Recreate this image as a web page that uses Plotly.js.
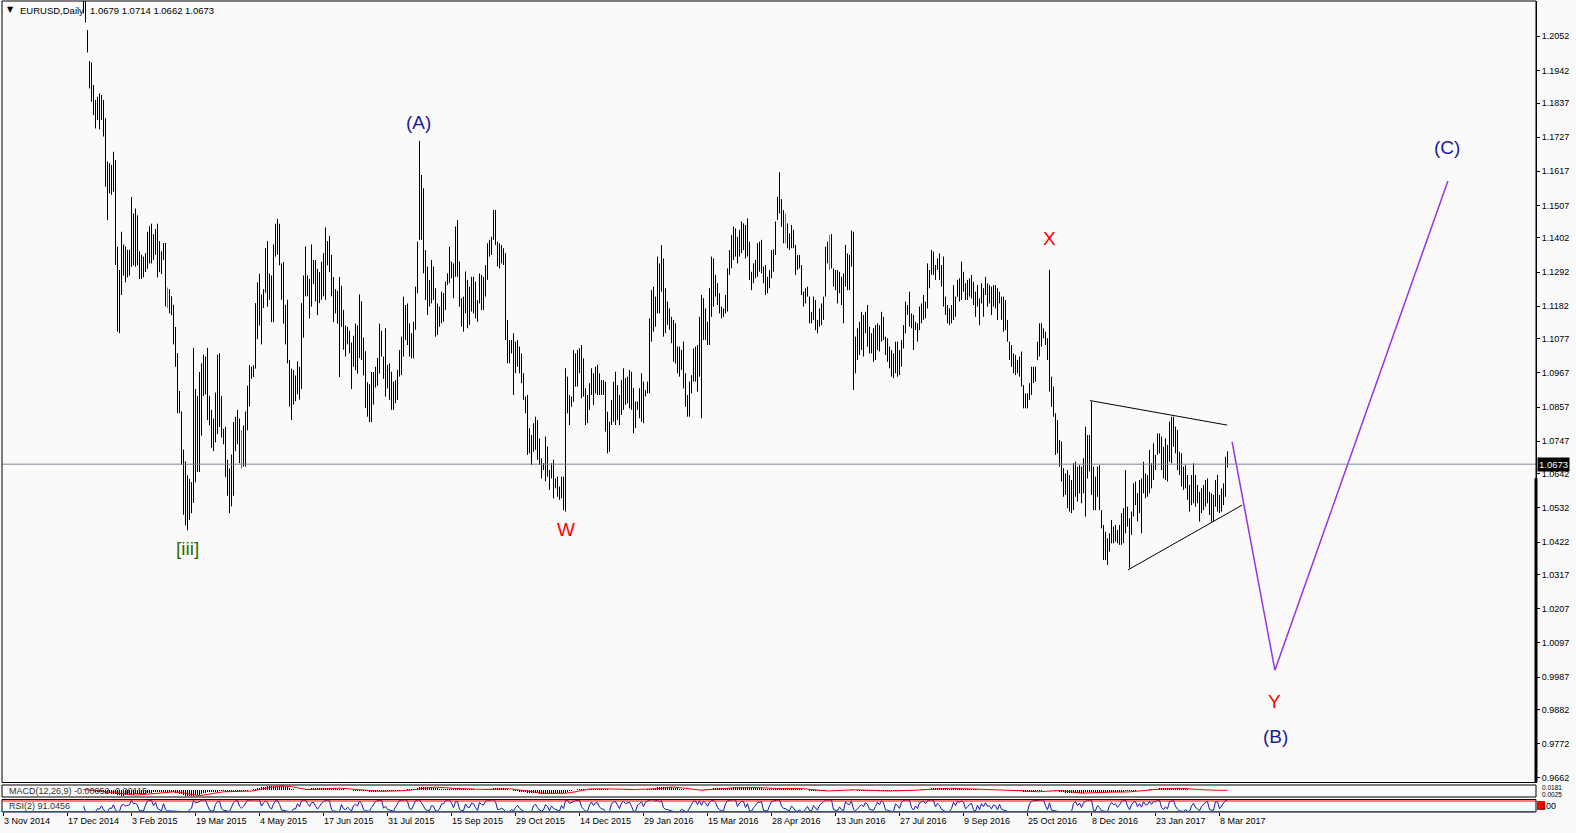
<!DOCTYPE html>
<html><head><meta charset="utf-8">
<script src="https://cdn.plot.ly/plotly-3.0.1.min.js"></script>
<style>html,body{margin:0;padding:0;background:#fafafa;overflow:hidden}#chart{width:1576px;height:833px}</style>
</head><body><div id="chart"></div>
<script>
// ---------------- data ----------------
const firstBar = 40; // bar number of the first high/low pair (bar 0 = 3 Nov 2014)
const high = [
1.2175,1.2180,1.2072,1.1972,1.1968,1.1895,1.1847,1.1857,1.1868,1.1863,
1.1847,1.1788,1.1648,1.1643,1.1637,1.1680,1.1653,1.1374,1.1299,1.1422,
1.1381,1.1375,1.1364,1.1364,1.1534,1.1481,1.1497,1.1475,1.1359,1.1348,
1.1342,1.1353,1.1422,1.1440,1.1448,1.1414,1.1431,1.1448,1.1392,1.1359,
1.1386,1.1386,1.1242,1.1237,1.1214,1.1187,1.1115,1.1031,1.0909,1.0843,
1.0720,1.0682,1.0637,1.0626,1.0615,1.1048,1.0915,1.0893,1.0970,1.0998,
1.1026,1.1020,1.1048,1.0893,1.0848,1.0820,1.0904,1.1026,1.1031,1.0893,
1.0787,1.0793,1.0687,1.0659,1.0704,1.0809,1.0826,1.0848,1.0820,1.0782,
1.0798,1.0843,1.0926,1.0992,1.0987,1.0992,1.1192,1.1259,1.1287,1.1220,
1.1237,1.1370,1.1392,1.1287,1.1281,1.1381,1.1448,1.1464,1.1448,1.1320,
1.1325,1.1187,1.1203,1.1009,1.0981,1.0976,1.0959,1.1004,1.0987,1.1192,
1.1281,1.1375,1.1281,1.1270,1.1381,1.1331,1.1331,1.1303,1.1292,1.1325,
1.1353,1.1436,1.1392,1.1409,1.1348,1.1276,1.1237,1.1231,1.1276,1.1248,
1.1170,1.1120,1.1115,1.1103,1.1065,1.1087,1.1126,1.1120,1.1220,1.1198,
1.1081,1.1037,1.0937,1.0931,1.0970,1.0970,1.0987,1.1015,1.1126,1.1103,
1.1020,1.1111,1.0993,1.0998,1.0971,1.0939,1.0944,1.0977,1.1041,1.1084,
1.1213,1.1186,1.1191,1.1127,1.1095,1.1132,1.1245,1.1390,1.1715,1.1605,
1.1562,1.1363,1.1310,1.1267,1.1331,1.1310,1.1240,1.1191,1.1181,1.1229,
1.1224,1.1261,1.1288,1.1374,1.1326,1.1320,1.1439,1.1460,1.1326,1.1208,
1.1213,1.1294,1.1267,1.1245,1.1277,1.1277,1.1261,1.1202,1.1288,1.1283,
1.1277,1.1315,1.1385,1.1396,1.1406,1.1492,1.1492,1.1390,1.1385,1.1379,
1.1369,1.1353,1.1138,1.1073,1.1073,1.1095,1.1068,1.1073,1.1052,1.1030,
1.0966,1.0891,1.0896,1.0789,1.0767,1.0805,1.0826,1.0815,1.0756,1.0692,
1.0676,1.0762,1.0730,1.0654,1.0676,1.0687,1.0627,1.0633,1.0601,1.0633,
1.0633,1.0982,1.0955,1.0896,1.0891,1.1041,1.1030,1.1041,1.1046,1.1057,
1.1014,1.0918,1.0896,1.0934,1.0982,1.0966,1.0987,1.0993,1.0966,1.0944,
1.0944,1.0939,1.0842,1.0810,1.0880,1.0939,1.0971,1.0928,1.0896,1.0944,
1.0982,1.0950,1.0955,1.0977,1.0971,1.0918,1.0875,1.0875,1.0918,1.0966,
1.0939,1.0912,1.0939,1.1143,1.1234,1.1245,1.1213,1.1342,1.1320,1.1379,
1.1336,1.1240,1.1197,1.1175,1.1148,1.1138,1.1127,1.1052,1.1052,1.1041,
1.1068,1.0966,1.0896,1.0939,1.0960,1.1046,1.1052,1.1057,1.1148,1.1218,
1.1208,1.1175,1.1132,1.1240,1.1342,1.1336,1.1283,1.1256,1.1224,1.1181,
1.1175,1.1218,1.1304,1.1363,1.1412,1.1439,1.1433,1.1406,1.1428,1.1455,
1.1449,1.1444,1.1465,1.1390,1.1293,1.1320,1.1331,1.1385,1.1390,1.1396,
1.1310,1.1315,1.1277,1.1299,1.1363,1.1365,1.1455,1.1535,1.1614,1.1527,
1.1492,1.1481,1.1449,1.1417,1.1444,1.1428,1.1380,1.1347,1.1347,1.1315,
1.1229,1.1240,1.1245,1.1213,1.1164,1.1213,1.1202,1.1138,1.1175,1.1191,
1.1213,1.1374,1.1390,1.1412,1.1415,1.1304,1.1299,1.1299,1.1293,1.1277,
1.1288,1.1380,1.1352,1.1347,1.1426,1.1422,1.1084,1.1111,1.1132,1.1164,
1.1154,1.1164,1.1186,1.1116,1.1095,1.1111,1.1121,1.1127,1.1121,1.1164,
1.1148,1.1084,1.1079,1.1052,1.1041,1.1030,1.1068,1.1068,1.1041,1.1073,
1.1121,1.1197,1.1186,1.1229,1.1159,1.1154,1.1132,1.1127,1.1181,1.1191,
1.1218,1.1197,1.1320,1.1299,1.1363,1.1358,1.1315,1.1336,1.1352,1.1315,
1.1342,1.1213,1.1186,1.1175,1.1186,1.1250,1.1213,1.1267,1.1272,1.1326,
1.1293,1.1256,1.1267,1.1272,1.1283,1.1261,1.1229,1.1250,1.1207,1.1256,
1.1240,1.1277,1.1256,1.1250,1.1245,1.1250,1.1250,1.1240,1.1229,1.1213,
1.1213,1.1202,1.1138,1.1068,1.1057,1.1030,1.1025,1.1009,1.1020,1.1036,
1.0928,1.0901,1.0901,1.0934,1.0987,1.0987,1.0987,1.1068,1.1127,1.1127,
1.1111,1.1100,1.1079,1.1299,1.0955,1.0923,1.0837,1.0815,1.0751,1.0746,
1.0660,1.0643,1.0654,1.0638,1.0622,1.0676,1.0681,1.0665,1.0670,1.0665,
1.0692,1.0794,1.0767,1.0767,1.0875,1.0665,1.0633,1.0665,1.0670,1.0525,
1.0477,1.0455,1.0434,1.0450,1.0493,1.0472,1.0477,1.0461,1.0477,1.0515,
1.0531,1.0654,1.0536,1.0499,1.0520,1.0611,1.0617,1.0579,1.0622,1.0627,
1.0681,1.0643,1.0638,1.0719,1.0676,1.0740,1.0703,1.0772,1.0772,1.0762,
1.0729,1.0756,1.0735,1.0810,1.0826,1.0826,1.0794,1.0783,1.0713,1.0708,
1.0665,1.0670,1.0638,1.0606,1.0638,1.0676,1.0638,1.0606,1.0584,1.0595,
1.0606,1.0622,1.0627,1.0584,1.0579,1.0574,1.0622,1.0638,1.0574,1.0595,
1.0611,1.0697,1.0714
];
const low = [
1.2126,1.2096,1.2000,1.1884,1.1841,1.1798,1.1755,1.1782,1.1752,1.1782,
1.1729,1.1567,1.1460,1.1546,1.1541,1.1551,1.1315,1.1100,1.1095,1.1218,
1.1281,1.1259,1.1275,1.1281,1.1309,1.1314,1.1309,1.1314,1.1270,1.1270,
1.1275,1.1292,1.1303,1.1320,1.1320,1.1331,1.1348,1.1275,1.1292,1.1286,
1.1331,1.1181,1.1176,1.1159,1.1153,1.1059,1.0987,1.0837,1.0837,1.0671,
1.0510,1.0476,1.0460,1.0493,1.0515,1.0548,1.0615,1.0648,1.0648,1.0765,
1.0893,1.0898,1.0815,1.0798,1.0726,1.0715,1.0743,1.0770,1.0793,1.0759,
1.0737,1.0632,1.0571,1.0515,1.0537,1.0571,1.0715,1.0737,1.0676,1.0659,
1.0665,1.0665,1.0782,1.0859,1.0948,1.0954,1.0981,1.1076,1.1120,1.1059,
1.1176,1.1226,1.1181,1.1203,1.1131,1.1131,1.1342,1.1348,1.1314,1.1203,
1.1126,1.1059,1.0998,1.0859,1.0815,1.0865,1.0876,1.0898,1.0881,1.0915,
1.1081,1.1214,1.1214,1.1142,1.1181,1.1253,1.1198,1.1153,1.1192,1.1203,
1.1214,1.1203,1.1314,1.1292,1.1214,1.1131,1.1159,1.1126,1.0954,1.1115,
1.1042,1.1020,1.1059,1.1031,1.0915,1.0987,1.0976,1.0965,1.1015,1.1009,
1.0959,1.0854,1.0826,1.0809,1.0809,1.0865,1.0920,1.0926,1.0965,1.1020,
1.0948,1.0891,1.0917,1.0880,1.0848,1.0848,1.0869,1.0880,1.0955,1.0960,
1.1020,1.1073,1.1057,1.1020,1.1014,1.1014,1.1106,1.1224,1.1396,1.1396,
1.1288,1.1202,1.1154,1.1181,1.1191,1.1202,1.1084,1.1089,1.1116,1.1127,
1.1132,1.1170,1.1250,1.1256,1.1272,1.1208,1.1277,1.1277,1.1181,1.1116,
1.1100,1.1159,1.1111,1.1122,1.1165,1.1159,1.1143,1.1132,1.1191,1.1170,
1.1170,1.1213,1.1267,1.1342,1.1347,1.1396,1.1379,1.1310,1.1304,1.1320,
1.1315,1.1073,1.0998,1.0998,1.1030,1.0896,1.0966,1.0987,1.0966,1.0934,
1.0880,1.0837,1.0703,1.0708,1.0670,1.0713,1.0719,1.0687,1.0670,1.0627,
1.0654,1.0617,1.0633,1.0590,1.0627,1.0563,1.0595,1.0568,1.0558,1.0563,
1.0525,1.0520,1.0837,1.0799,1.0858,1.0874,1.0923,1.0923,1.0966,1.0885,
1.0891,1.0799,1.0805,1.0848,1.0896,1.0864,1.0901,1.0896,1.0896,1.0896,
1.0896,1.0778,1.0708,1.0713,1.0799,1.0810,1.0799,1.0815,1.0799,1.0832,
1.0848,1.0864,1.0869,1.0853,1.0848,1.0772,1.0789,1.0848,1.0821,1.0810,
1.0805,1.0891,1.0901,1.0901,1.1068,1.1100,1.1116,1.1159,1.1159,1.1229,
1.1084,1.1095,1.1122,1.1106,1.1063,1.1003,1.0998,1.0966,1.0955,1.0977,
1.0917,1.0858,1.0826,1.0826,1.0901,1.0939,1.0939,1.0907,1.0955,1.0821,
1.1073,1.1073,1.1057,1.1057,1.1148,1.1181,1.1213,1.1186,1.1159,1.1143,
1.1148,1.1159,1.1165,1.1283,1.1304,1.1331,1.1342,1.1320,1.1342,1.1353,
1.1363,1.1336,1.1342,1.1267,1.1234,1.1256,1.1272,1.1277,1.1293,1.1288,
1.1256,1.1218,1.1224,1.1240,1.1272,1.1293,1.1347,1.1460,1.1481,1.1438,
1.1385,1.1385,1.1369,1.1363,1.1369,1.1369,1.1283,1.1299,1.1304,1.1218,
1.1181,1.1191,1.1213,1.1127,1.1127,1.1138,1.1105,1.1095,1.1116,1.1121,
1.1138,1.1213,1.1320,1.1299,1.1304,1.1245,1.1234,1.1191,1.1224,1.1186,
1.1127,1.1245,1.1234,1.1234,1.1310,1.0912,1.0966,1.1009,1.1025,1.1041,
1.1020,1.1095,1.1052,1.1030,1.1030,1.1003,1.1009,1.1041,1.1036,1.1068,
1.1073,1.1025,1.1003,1.0982,1.0955,1.0950,1.0966,1.0955,1.0960,1.0987,
1.1046,1.1095,1.1154,1.1116,1.1111,1.1041,1.1105,1.1068,1.1105,1.1127,
1.1138,1.1143,1.1175,1.1240,1.1283,1.1283,1.1267,1.1299,1.1267,1.1245,
1.1181,1.1154,1.1127,1.1121,1.1127,1.1138,1.1148,1.1213,1.1197,1.1202,
1.1229,1.1202,1.1202,1.1213,1.1207,1.1186,1.1148,1.1181,1.1121,1.1191,
1.1148,1.1218,1.1181,1.1191,1.1154,1.1181,1.1175,1.1138,1.1191,1.1138,
1.1100,1.1105,1.1068,1.1009,1.0987,1.0966,1.0960,1.0966,1.0955,1.0923,
1.0853,1.0853,1.0853,1.0880,1.0896,1.0934,1.0939,1.1009,1.1020,1.1052,
1.1079,1.1057,1.1009,1.0907,1.0858,1.0826,1.0703,1.0708,1.0665,1.0617,
1.0568,1.0574,1.0531,1.0520,1.0515,1.0525,1.0568,1.0552,1.0579,1.0547,
1.0579,1.0504,1.0627,1.0649,1.0574,1.0525,1.0525,1.0568,1.0525,1.0466,
1.0364,1.0364,1.0348,1.0391,1.0418,1.0418,1.0423,1.0418,1.0413,1.0413,
1.0418,1.0450,1.0472,1.0337,1.0445,1.0504,1.0541,1.0488,1.0515,1.0450,
1.0579,1.0563,1.0568,1.0579,1.0595,1.0622,1.0654,1.0703,1.0708,1.0654,
1.0627,1.0622,1.0617,1.0681,1.0676,1.0729,1.0708,1.0654,1.0638,1.0601,
1.0590,1.0595,1.0558,1.0520,1.0541,1.0547,1.0536,1.0547,1.0488,1.0515,
1.0525,1.0536,1.0547,1.0509,1.0488,1.0488,1.0536,1.0520,1.0515,1.0520,
1.0541,1.0568,1.0662
];
const blueBars = [82, 119, 391, 413];

const dateLabels = ['3 Nov 2014','17 Dec 2014','3 Feb 2015','19 Mar 2015','4 May 2015','17 Jun 2015',
  '31 Jul 2015','15 Sep 2015','29 Oct 2015','14 Dec 2015','29 Jan 2016','15 Mar 2016','28 Apr 2016',
  '13 Jun 2016','27 Jul 2016','9 Sep 2016','25 Oct 2016','8 Dec 2016','23 Jan 2017','8 Mar 2017'];
const barsPerDateLabel = 32;

const priceTicks = [1.2052,1.1942,1.1837,1.1727,1.1617,1.1507,1.1402,1.1292,1.1182,1.1077,1.0967,
  1.0857,1.0747,1.0642,1.0532,1.0422,1.0317,1.0207,1.0097,0.9987,0.9882,0.9772,0.9662];

const symbolName = 'EURUSD,Daily';
const headerOHLC = [1.0679, 1.0714, 1.0662, 1.0673];
const currentPrice = 1.0673;

const waveText  = ['(A)', '[iii]', 'W', 'X', 'Y', '(B)', '(C)'];
const waveDegree = ['major', 'minor', 'sub', 'sub', 'sub', 'major', 'major'];
const waveBar   = [207.3, 92, 281, 523.2, 635.7, 636.2, 721.7];
const wavePrice = [1.1774, 1.0401, 1.0462, 1.1399, 0.9908, 0.9795, 1.1693];

const triUpperBar = [543.2, 611.8], triUpperPrice = [1.0878, 1.0799];
const triLowerBar = [562.2, 619.3], triLowerPrice = [1.0332, 1.0541];
const projBar = [614.3, 635.7, 722.2], projPrice = [1.0745, 1.0009, 1.1586];

const macdParams = [12, 26, 9];
const rsiPeriod = 2;
const macdText = 'MACD(12,26,9) -0.00052 -0.00115';
const rsiText = 'RSI(2) 91.0456';
const macdScaleText = ['0.0181', '0.0025'];
const rsiScaleText = '100';

// ---------------- styles ----------------
const degreeColor = {major: '#1c1c96', minor: '#2d6e00', sub: '#ff0000'};
const FONT = 'Liberation Sans, Arial, sans-serif';

// ---------------- build ----------------
const bx = [], by = [], blx = [], bly = [];
high.forEach((h, k) => {
  const i = firstBar + k;
  const tx = blueBars.includes(i) ? blx : bx, ty = blueBars.includes(i) ? bly : by;
  tx.push(i, i, null); ty.push(low[k], h, null);
});
const idx = high.map((_, k) => firstBar + k);
const mid = high.map((h, k) => (h + low[k]) / 2);

function ema(a, n) { const al = 2 / (n + 1); let e = a[0]; return a.map((v, k) => (e = k ? al * v + (1 - al) * e : v)); }
const e1 = ema(mid, macdParams[0]), e2 = ema(mid, macdParams[1]);
const macd = mid.map((_, k) => e1[k] - e2[k]);
const signal = macd.map((_, k) => { const s = macd.slice(Math.max(0, k - macdParams[2] + 1), k + 1); return s.reduce((p, c) => p + c, 0) / s.length; });
let ag = 0, al = 0;
const rsi = mid.map((v, k) => {
  if (k === 0) return 50;
  const ch = v - mid[k - 1], g = Math.max(ch, 0), l = Math.max(-ch, 0);
  if (k === 1) { ag = g; al = l; } else { ag = (ag * (rsiPeriod - 1) + g) / rsiPeriod; al = (al * (rsiPeriod - 1) + l) / rsiPeriod; }
  return al === 0 ? 100 : 100 - 100 / (1 + ag / al);
});

const W = 1576, H = 833, L = 2, R = 40, T = 1, B = 21;
const PW = W - L - R, PH = H - T - B;
const px = x => (x - L) / PW;          // pixel -> paper x
const py = y => (H - B - y) / PH;      // pixel -> paper y
const mainDom = [py(782.5), 1], macdDom = [py(797), py(785)], rsiDom = [0, py(799.5)];

const traces = [
  {x: bx, y: by, type: 'scatter', mode: 'lines', line: {color: '#000', width: 1}, xaxis: 'x', yaxis: 'y', hoverinfo: 'skip'},
  {x: blx, y: bly, type: 'scatter', mode: 'lines', line: {color: '#2f86c9', width: 1}, xaxis: 'x', yaxis: 'y', hoverinfo: 'skip'},
  {x: triUpperBar, y: triUpperPrice, type: 'scatter', mode: 'lines', line: {color: '#000', width: 1}, xaxis: 'x', yaxis: 'y'},
  {x: triLowerBar, y: triLowerPrice, type: 'scatter', mode: 'lines', line: {color: '#000', width: 1}, xaxis: 'x', yaxis: 'y'},
  {x: projBar, y: projPrice, type: 'scatter', mode: 'lines', line: {color: '#9a32e6', width: 1.5}, xaxis: 'x', yaxis: 'y'},
  {x: idx, y: macd, type: 'bar', width: 0.5, marker: {color: '#000', line: {width: 0}}, xaxis: 'x', yaxis: 'y2'},
  {x: idx, y: signal, type: 'scatter', mode: 'lines', line: {color: '#ff0000', width: 1}, xaxis: 'x', yaxis: 'y2'},
  {x: idx, y: rsi, type: 'scatter', mode: 'lines', line: {color: '#1a1aa6', width: 1}, xaxis: 'x', yaxis: 'y3'}
];

const annotations = [];
waveText.forEach((t, k) => annotations.push({x: waveBar[k], y: wavePrice[k], xref: 'x', yref: 'y', text: t, showarrow: false,
  font: {family: FONT, size: 19, color: degreeColor[waveDegree[k]]}, xanchor: 'center', yanchor: 'middle'}));
annotations.push({x: px(4.5), y: py(10), xref: 'paper', yref: 'paper', text: '\u25BC', showarrow: false, xanchor: 'left', yanchor: 'middle', font: {family: 'DejaVu Sans, sans-serif', size: 8, color: '#000'}});
annotations.push({x: px(17.5), y: py(10.5), xref: 'paper', yref: 'paper', text: symbolName, showarrow: false, xanchor: 'left', yanchor: 'middle', font: {family: FONT, size: 9.5, color: '#000'}});
annotations.push({x: px(88), y: py(10.5), xref: 'paper', yref: 'paper', text: headerOHLC.map(v => v.toFixed(4)).join(' '), showarrow: false, xanchor: 'left', yanchor: 'middle', font: {family: FONT, size: 9.5, color: '#000'}});
annotations.push({x: 1, y: currentPrice, xref: 'paper', yref: 'y', text: currentPrice.toFixed(4), showarrow: false, xanchor: 'left', yanchor: 'middle', xshift: 1,
  bgcolor: '#000', borderpad: 1, font: {family: FONT, size: 9.5, color: '#fff'}});
annotations.push({x: px(7), y: py(791), xref: 'paper', yref: 'paper', text: macdText, showarrow: false, xanchor: 'left', yanchor: 'middle', font: {family: FONT, size: 9, color: '#333'}});
annotations.push({x: px(7), y: py(805.5), xref: 'paper', yref: 'paper', text: rsiText, showarrow: false, xanchor: 'left', yanchor: 'middle', font: {family: FONT, size: 9, color: '#333'}});
annotations.push({x: 1, y: py(787.5), xref: 'paper', yref: 'paper', text: macdScaleText[0], showarrow: false, xanchor: 'left', yanchor: 'middle', xshift: 4, font: {family: FONT, size: 6.5, color: '#000'}});
annotations.push({x: 1, y: py(794.5), xref: 'paper', yref: 'paper', text: macdScaleText[1], showarrow: false, xanchor: 'left', yanchor: 'middle', xshift: 4, font: {family: FONT, size: 6.5, color: '#000'}});
annotations.push({x: 1, y: py(805.5), xref: 'paper', yref: 'paper', text: rsiScaleText, showarrow: false, xanchor: 'left', yanchor: 'middle', xshift: 3, font: {family: FONT, size: 9, color: '#000'}});

const shapes = [
  {type: 'line', xref: 'paper', yref: 'y', x0: 0, x1: 1, y0: currentPrice, y1: currentPrice, line: {color: '#778899', width: 1}},
  {type: 'rect', xref: 'paper', yref: 'paper', x0: 0, x1: 1, y0: mainDom[0], y1: mainDom[1], line: {color: '#000', width: 1}},
  {type: 'rect', xref: 'paper', yref: 'paper', x0: 0, x1: 1, y0: macdDom[0], y1: macdDom[1], line: {color: '#000', width: 1}},
  {type: 'rect', xref: 'paper', yref: 'paper', x0: 0, x1: 1, y0: rsiDom[0], y1: rsiDom[1], line: {color: '#000', width: 1}},
  {type: 'line', xref: 'paper', yref: 'paper', x0: 0, x1: 1, y0: py(811.5), y1: py(811.5), line: {color: '#ff0000', width: 1}},
  {type: 'line', xref: 'paper', yref: 'paper', x0: 0, x1: 1, y0: py(801), y1: py(801), line: {color: '#ff0000', width: 1}},
  {type: 'line', xref: 'paper', yref: 'y', x0: 1, x1: 1, y0: 1.0628, y1: 0.9647, line: {color: '#000', width: 3}},
  {type: 'rect', xref: 'paper', yref: 'paper', x0: px(1537), x1: px(1545), y0: py(810), y1: py(801), fillcolor: '#ff0000', line: {width: 0}}
];

const layout = {
  width: W, height: H, margin: {l: L, r: R, t: T, b: B}, showlegend: false, hovermode: false,
  paper_bgcolor: '#fafafa', plot_bgcolor: '#fafafa', font: {family: FONT, size: 9, color: '#000'},
  bargap: 0,
  xaxis: {domain: [0, 1], range: [-0.75, 766.25], anchor: 'y3', tickmode: 'array',
    tickvals: dateLabels.map((_, k) => k * barsPerDateLabel), ticktext: dateLabels,
    ticks: 'outside', ticklen: 3, tickcolor: '#000', ticklabelposition: 'outside right',
    tickfont: {family: FONT, size: 9, color: '#000'}, showgrid: false, zeroline: false, showline: false, automargin: false, fixedrange: true},
  yaxis: {domain: mainDom, range: [0.96470, 1.21658], anchor: 'x', side: 'right', tickmode: 'array',
    tickvals: priceTicks, ticktext: priceTicks.map(v => v.toFixed(4)), ticks: 'outside', ticklen: 3, tickcolor: '#000',
    tickfont: {family: FONT, size: 9, color: '#000'}, showgrid: false, zeroline: false, showline: true, linecolor: '#000', linewidth: 1, automargin: false, fixedrange: true},
  yaxis2: {domain: macdDom, anchor: 'x', side: 'right', showticklabels: false, ticks: '', showgrid: false, zeroline: false, showline: false, automargin: false, fixedrange: true},
  yaxis3: {domain: rsiDom, anchor: 'x', side: 'right', range: [-2, 102], showticklabels: false, ticks: '', showgrid: false, zeroline: false, showline: false, automargin: false, fixedrange: true},
  annotations, shapes
};
Plotly.newPlot('chart', traces, layout, {staticPlot: true, displayModeBar: false});
</script></body></html>
